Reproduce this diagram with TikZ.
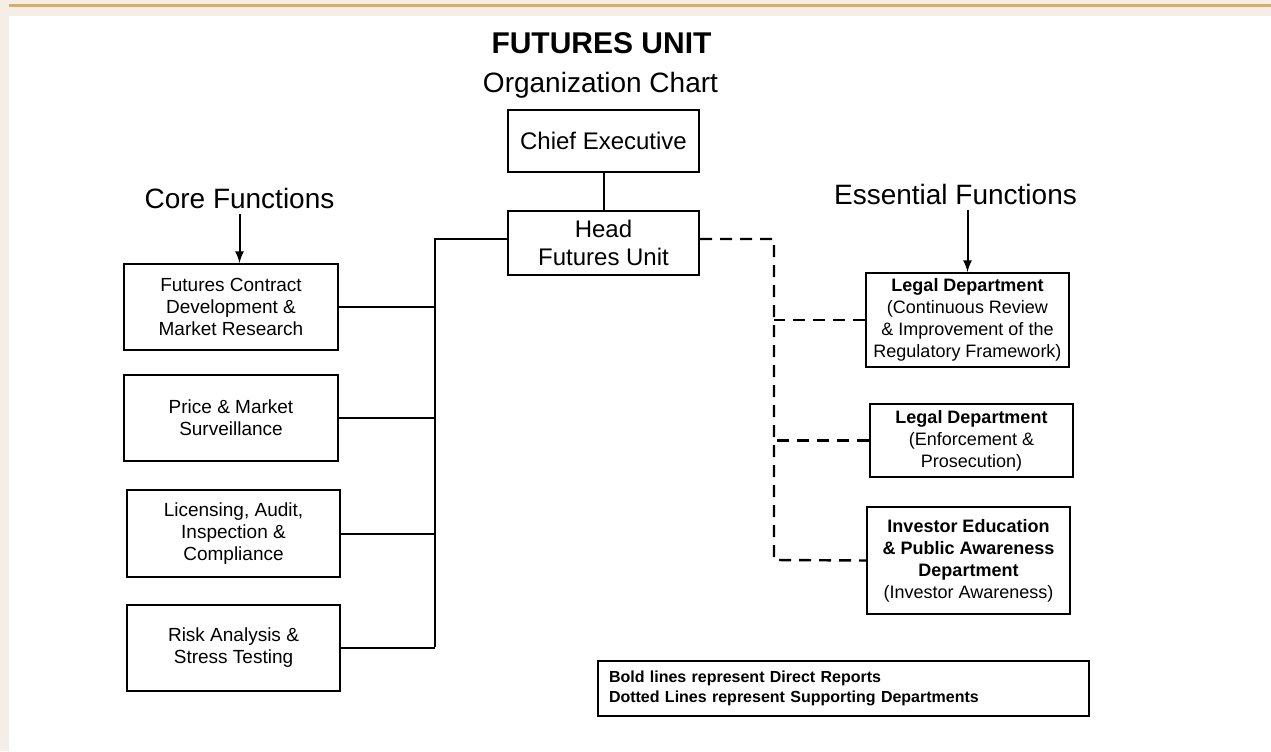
\documentclass[tikz,border=0pt]{standalone}
\usepackage{fontspec}
\setmainfont{Liberation Sans}
\usepackage{tikz}
\usetikzlibrary{calc,arrows,positioning}
\definecolor{pagebg}{HTML}{F4EEE7}
\definecolor{goldline}{HTML}{D9AD69}

\begin{document}
\begin{tikzpicture}[x=0.5pt,y=-0.5pt,
    orgbox/.style={draw,line width=1pt,align=center,inner sep=0pt},
    chiefbox/.style={orgbox,minimum width=95.5pt,minimum height=31pt,font=\fontsize{12}{14}\selectfont},
    corebox/.style={orgbox,minimum width=107pt,minimum height=43pt,font=\fontsize{9.5}{11}\selectfont},
    sidebox/.style={orgbox,minimum width=101.5pt,font=\fontsize{9}{11}\selectfont},
    heading/.style={anchor=base,inner sep=2.5pt,font=\fontsize{14}{16}\selectfont},
    report/.style={line width=1pt},
    support/.style={line width=1.2pt,dash pattern=on 6pt off 4pt}]
                      \useasboundingbox (0,0) rectangle (1271,751);
                      \fill[pagebg] (0,0) rectangle (1271,751);
                      \fill[white] (9,16) rectangle (1271,751);
                      \draw[goldline,line width=1.5pt] (9,5.5) -- (1271,5.5);

                      \node[heading,font=\bfseries\fontsize{15}{18}\selectfont] (title) at (601.5,53) {FUTURES UNIT};
                      \node[heading] (subtitle) at (600.5,92) {Organization Chart};
                      \node[chiefbox] (ce) at (603.5,140.5) {Chief Executive};
                      \node[chiefbox,minimum height=32pt] (head) at (603.5,243) {Head\\Futures Unit};
                      \node[heading] (core) at (239.5,208) {Core Functions};
                      \node[heading] (essential) at (955.5,204) {Essential Functions};

                      \node[corebox] (f1) at (231,307) {Futures Contract\\Development \&\\Market Research};
                      \node[corebox] (f2) at (231,418) {Price \& Market\\Surveillance};
                      \node[corebox,minimum width=106.5pt,minimum height=43.5pt] (f3) at (233.5,533.5) {Licensing, Audit,\\Inspection \&\\Compliance};
                      \node[corebox,minimum width=106.5pt] (f4) at (233.5,648) {Risk Analysis \&\\Stress Testing};

                      \node[sidebox,minimum height=47pt] (legal1) at (967.5,320) {\textbf{Legal Department}\\(Continuous Review\\\& Improvement of the\\Regulatory Framework)};
                      \node[sidebox,minimum height=36.5pt] (legal2) at (971.5,440.5) {\textbf{Legal Department}\\(Enforcement \&\\Prosecution)};
                      \node[sidebox,minimum height=53.5pt] (investor) at (968.5,560.5) {\textbf{Investor Education}\\\textbf{\& Public Awareness}\\\textbf{Department}\\(Investor Awareness)};

                      \node[draw,line width=1pt,inner xsep=5.5pt,inner ysep=0pt,text width=234.5pt,minimum height=27.5pt,align=left,font=\bfseries\fontsize{8}{10}\selectfont] (legend) at (843.5,688.5) {Bold lines represent Direct Reports\\Dotted Lines represent Supporting Departments};

                      \coordinate (bus) at (435,647);
                      \coordinate (dbus) at (774,560);
                      \draw[report] (ce) -- (head);
                      \draw[report] ([yshift=2pt]head.west) -| (bus);
                      \foreach \f in {f1,f2,f3,f4}
                          \draw[report] (\f.east) -- (\f.east -| bus);
                      \draw[support] ([yshift=2pt]head.east) -| (dbus) -- (investor.west);
                      \foreach \d in {legal1,legal2}
                          \draw[support] (\d.west) -- (\d.west -| dbus);
                      \draw[report,-latex] (core.south) -- (core.south |- f1.north);
                      \draw[report,-latex] (essential.south -| legal1.north) -- (legal1.north);
                  \end{tikzpicture}
\end{document}
